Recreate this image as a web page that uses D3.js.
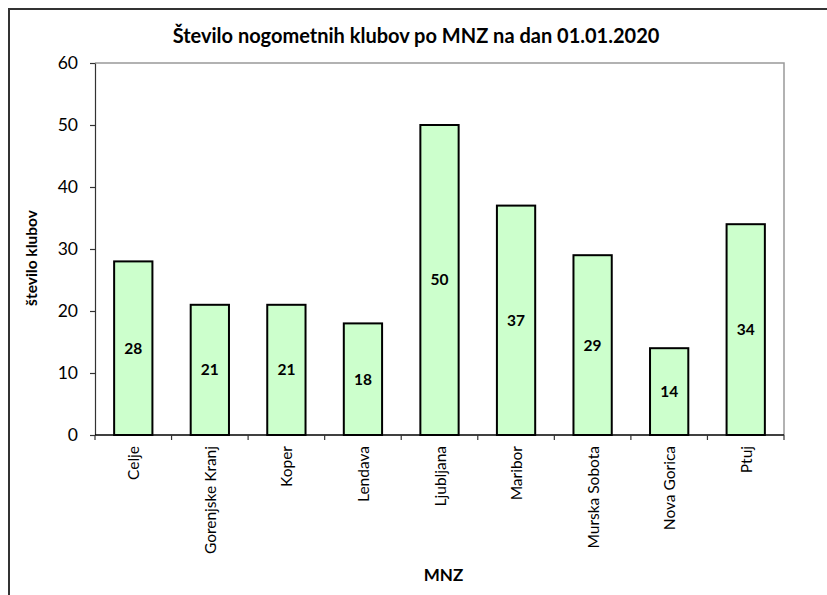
<!DOCTYPE html>
<html>
<head>
<meta charset="utf-8">
<script src="https://cdn.jsdelivr.net/npm/d3@7"></script>
<style>
  body { margin: 0; background: #fff; }
  text { font-family: Lato, "Open Sans", sans-serif; fill: #000; }
</style>
</head>
<body>
<script>
const categories = ['Celje', 'Gorenjske Kranj', 'Koper', 'Lendava', 'Ljubljana', 'Maribor', 'Murska Sobota', 'Nova Gorica', 'Ptuj'];
const values = [28, 21, 21, 18, 50, 37, 29, 14, 34];
const yTicks = [0, 10, 20, 30, 40, 50, 60];

const width = 827, height = 595;
const margin = { top: 63, right: 43, bottom: 160, left: 95 };

const svg = d3.select('body').append('svg')
  .attr('width', width)
  .attr('height', height);

// outer chart frame (only top and left edges show)
svg.append('path')
  .attr('fill', 'none')
  .attr('stroke', '#333')
  .attr('stroke-width', 2)
  .attr('d', `M9,${height}V9H${width}`);

const x = d3.scaleBand()
  .domain(categories)
  .range([margin.left, width - margin.right])
  .paddingInner(0.5)
  .paddingOuter(0.25);

const y = d3.scaleLinear()
  .domain([0, 60])
  .range([height - margin.bottom, margin.top]);

// plot area border: top and right in gray
svg.append('path')
  .attr('fill', 'none')
  .attr('stroke', '#999')
  .attr('stroke-width', 1.5)
  .attr('d', `M${margin.left},${y(60)}H${width - margin.right}V${y(0)}`);

// bars
const bars = svg.append('g')
  .selectAll('g')
  .data(categories.map((c, i) => ({ c, v: values[i] })))
  .join('g');

bars.append('rect')
  .attr('x', d => x(d.c))
  .attr('y', d => y(d.v))
  .attr('width', x.bandwidth())
  .attr('height', d => y(0) - y(d.v))
  .attr('fill', '#ccffcc')
  .attr('stroke', '#000')
  .attr('stroke-width', 2);

bars.append('text')
  .attr('x', d => x(d.c) + x.bandwidth() / 2)
  .attr('y', d => (y(d.v) + y(0)) / 2)
  .attr('dy', '0.35em')
  .attr('text-anchor', 'middle')
  .attr('font-weight', 'bold')
  .attr('font-size', 15.5)
  .text(d => d.v);

// y axis
svg.append('g')
  .attr('transform', `translate(${margin.left},0)`)
  .call(d3.axisLeft(y).tickValues(yTicks).tickSize(5).tickPadding(12).tickSizeOuter(0))
  .call(g => g.selectAll('.domain, line').attr('stroke', '#333').attr('stroke-width', 1.2))
  .call(g => g.selectAll('text').attr('font-size', 17.5).attr('font-family', 'Lato, sans-serif'));

// x axis: ticks at band boundaries
const boundaries = d3.range(categories.length + 1)
  .map(i => margin.left + i * (width - margin.right - margin.left) / categories.length);

const xg = svg.append('g');
xg.append('line')
  .attr('x1', margin.left).attr('x2', width - margin.right)
  .attr('y1', y(0)).attr('y2', y(0))
  .attr('stroke', '#000').attr('stroke-width', 1.5);
xg.selectAll('.tick')
  .data(boundaries)
  .join('line')
  .attr('x1', d => d).attr('x2', d => d)
  .attr('y1', y(0)).attr('y2', y(0) + 5)
  .attr('stroke', '#333').attr('stroke-width', 1.2);
xg.selectAll('.label')
  .data(categories)
  .join('text')
  .attr('transform', d => `translate(${x(d) + x.bandwidth() / 2 + 6},${y(0) + 11}) rotate(-90)`)
  .attr('text-anchor', 'end')
  .attr('font-size', 15.5)
  .text(d => d);

// titles
svg.append('text')
  .attr('x', 416)
  .attr('y', 43)
  .attr('text-anchor', 'middle')
  .attr('font-weight', 'bold')
  .attr('font-size', 20)
  .text('Število nogometnih klubov po MNZ na dan 01.01.2020');

svg.append('text')
  .attr('transform', `translate(37,${(y(0) + y(60)) / 2 + 9}) rotate(-90)`)
  .attr('text-anchor', 'middle')
  .attr('font-weight', 'bold')
  .attr('font-size', 15.5)
  .text('število klubov');

svg.append('text')
  .attr('x', (margin.left + width - margin.right) / 2 + 4)
  .attr('y', 581)
  .attr('text-anchor', 'middle')
  .attr('font-weight', 'bold')
  .attr('font-size', 17)
  .text('MNZ');
</script>
</body>
</html>
